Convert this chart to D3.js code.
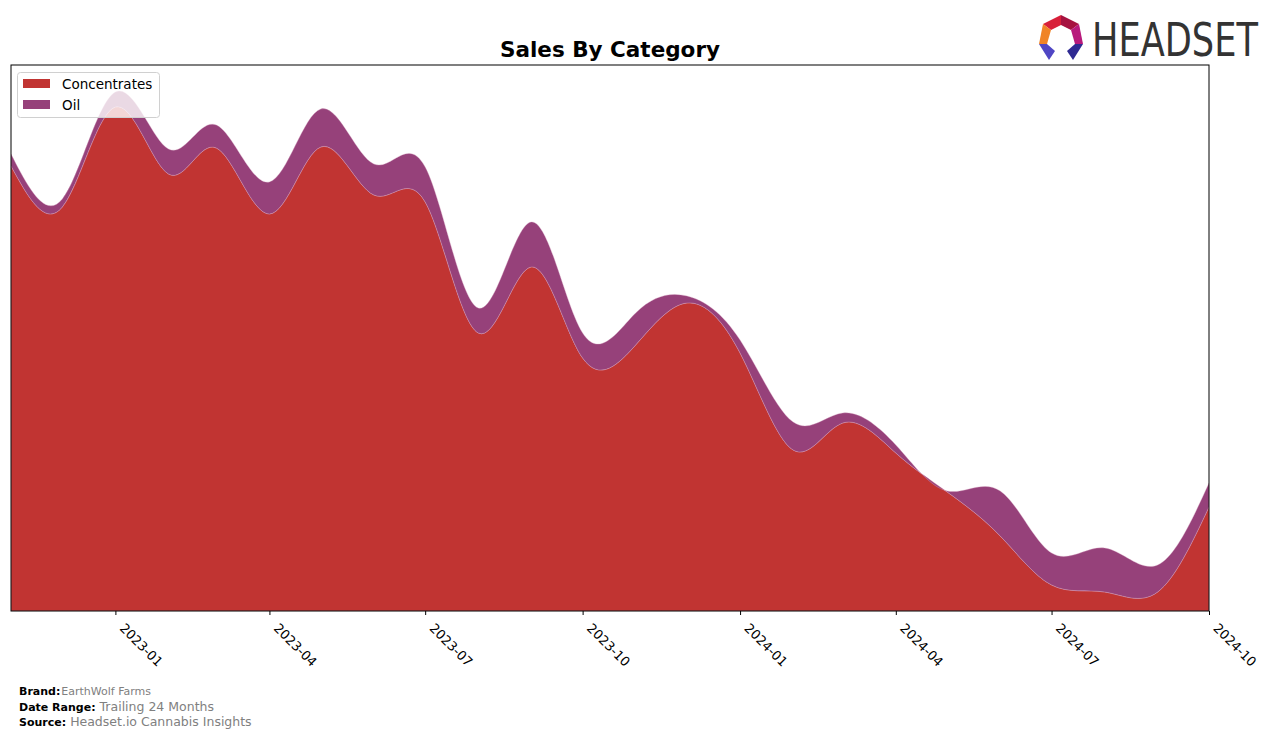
<!DOCTYPE html>
<html>
<head>
<meta charset="utf-8">
<script src="https://cdn.jsdelivr.net/npm/d3@7"></script>
<style>
  html, body { margin: 0; padding: 0; background: #fff; }
  svg { display: block; font-family: "DejaVu Sans", sans-serif; }
</style>
</head>
<body>
<svg id="chart" width="1276" height="739"></svg>
<script>
// ---- data ----
const months = ["2022-11","2022-12","2023-01","2023-02","2023-03","2023-04","2023-05","2023-06",
  "2023-07","2023-08","2023-09","2023-10","2023-11","2023-12","2024-01","2024-02","2024-03",
  "2024-04","2024-05","2024-06","2024-07","2024-08","2024-09","2024-10"];
const concentrates = [44500,40400,50400,43700,46300,39700,46400,41600,40900,27800,34400,25300,
  26600,30800,25800,16100,18800,15800,11900,7500,2600,1900,1900,10400];
const oil = [1200,800,1500,2500,2300,3200,3800,3100,3500,2500,4500,2500,3200,700,1300,2800,
  1000,800,100,4500,3200,4400,2700,2400];
const seriesNames = ["Concentrates","Oil"];
const seriesColors = ["#c13432","#96417a"];
const tickLabels = ["2023-01","2023-04","2023-07","2023-10","2024-01","2024-04","2024-07","2024-10"];

// ---- layout ----
const svg = d3.select("#chart");
const L = 11, R = 1209, T = 65, B = 611;
const parse = d3.timeParse("%Y-%m");
const dates = months.map(parse);

const x = d3.scaleTime().domain([dates[0], dates[dates.length-1]]).range([L, R]);
const y = d3.scaleLinear().domain([0, 54600]).range([B, T]);

const rows = months.map((m, i) => ({date: dates[i], Concentrates: concentrates[i], Oil: oil[i]}));
const stack = d3.stack().keys(seriesNames);
const layers = stack(rows);

const area = d3.area()
  .curve(d3.curveNatural)
  .x(d => x(d.data.date))
  .y0(d => y(d[0]))
  .y1(d => y(d[1]));

const clip = svg.append("defs").append("clipPath").attr("id", "plotclip");
clip.append("rect").attr("x", L).attr("y", T).attr("width", R - L).attr("height", B - T);

svg.append("g").attr("clip-path", "url(#plotclip)")
  .selectAll("path").data(layers).join("path")
  .attr("d", area)
  .attr("fill", (d, i) => seriesColors[i])
  .attr("stroke", "#d9a6c4")
  .attr("stroke-width", 0.5)
  .attr("stroke-opacity", 0.7);

// frame
svg.append("rect").attr("x", L).attr("y", T).attr("width", R - L).attr("height", B - T)
  .attr("fill", "none").attr("stroke", "#000").attr("stroke-width", 1);

// x axis
const tickDates = tickLabels.map(parse);
const xAxis = d3.axisBottom(x).tickValues(tickDates).tickFormat(d3.timeFormat("%Y-%m")).tickSize(4).tickPadding(3);
const gx = svg.append("g").attr("transform", `translate(0,${B})`).call(xAxis);
gx.select(".domain").remove();
gx.selectAll(".tick line").attr("stroke", "#000");
gx.selectAll(".tick text")
  .attr("font-family", "DejaVu Sans, sans-serif")
  .attr("font-size", 13)
  .attr("fill", "#000")
  .attr("text-anchor", "start")
  .attr("dy", 0)
  .attr("y", 0)
  .attr("transform", "translate(3,18) rotate(45)");

// title
svg.append("text").attr("x", 610).attr("y", 57).attr("text-anchor", "middle")
  .attr("font-size", 21.5).attr("font-weight", "bold").attr("fill", "#000")
  .text("Sales By Category");

// legend
const lg = svg.append("g");
lg.append("rect").attr("x", 17.5).attr("y", 72.5).attr("width", 142).attr("height", 45)
  .attr("rx", 3).attr("fill", "#fff").attr("fill-opacity", 0.8).attr("stroke", "#d0d0d0");
seriesNames.forEach((n, i) => {
  lg.append("rect").attr("x", 23).attr("y", 79 + i * 21).attr("width", 27).attr("height", 9)
    .attr("fill", seriesColors[i]);
  lg.append("text").attr("x", 62).attr("y", 89 + i * 21).attr("font-size", 13.5).attr("fill", "#000").text(n);
});

// footer
const foot = [
  ["Brand:", "EarthWolf Farms", 11],
  ["Date Range:", "Trailing 24 Months", 12.5],
  ["Source:", "Headset.io Cannabis Insights", 12.5]
];
foot.forEach((f, i) => {
  const t = svg.append("text").attr("x", 19).attr("y", 695 + i * 15.5);
  t.append("tspan").attr("font-weight", "bold").attr("font-size", 11).attr("fill", "#000").text(f[0]);
  t.append("tspan").attr("font-size", f[2]).attr("fill", "#808080").attr("dx", i === 0 ? 1 : 4).text(f[1]);
});

// logo
const logo = svg.append("g");
const polys = [
  {pts: [[1043,24],[1061,15],[1061,25],[1051,30]], c: "#d8203a"},
  {pts: [[1061,15],[1079,24],[1071,30],[1061,25]], c: "#a61240"},
  {pts: [[1079,24],[1083,44],[1075,44],[1071,30]], c: "#b81a7c"},
  {pts: [[1043,24],[1051,30],[1047,44],[1039,44]], c: "#f08427"},
  {pts: [[1039,44],[1047,44],[1055,51],[1049,60]], c: "#4f46c4"},
  {pts: [[1083,44],[1075,44],[1067,51],[1073,60]], c: "#2f2a92"}
];
polys.forEach(p => logo.append("polygon").attr("points", p.pts.map(q => q.join(",")).join(" ")).attr("fill", p.c));
const lt = logo.append("g").attr("transform", "translate(1092,56)");
const ltxt = lt.append("text").attr("x", 0).attr("y", 0).attr("font-family", "DejaVu Sans, sans-serif")
  .attr("font-size", 46).attr("fill", "#333").text("HEADSET");
const natW = ltxt.node().getComputedTextLength() || 220;
lt.attr("transform", `translate(1092,56) scale(${166 / natW},1)`);
</script>
</body>
</html>
